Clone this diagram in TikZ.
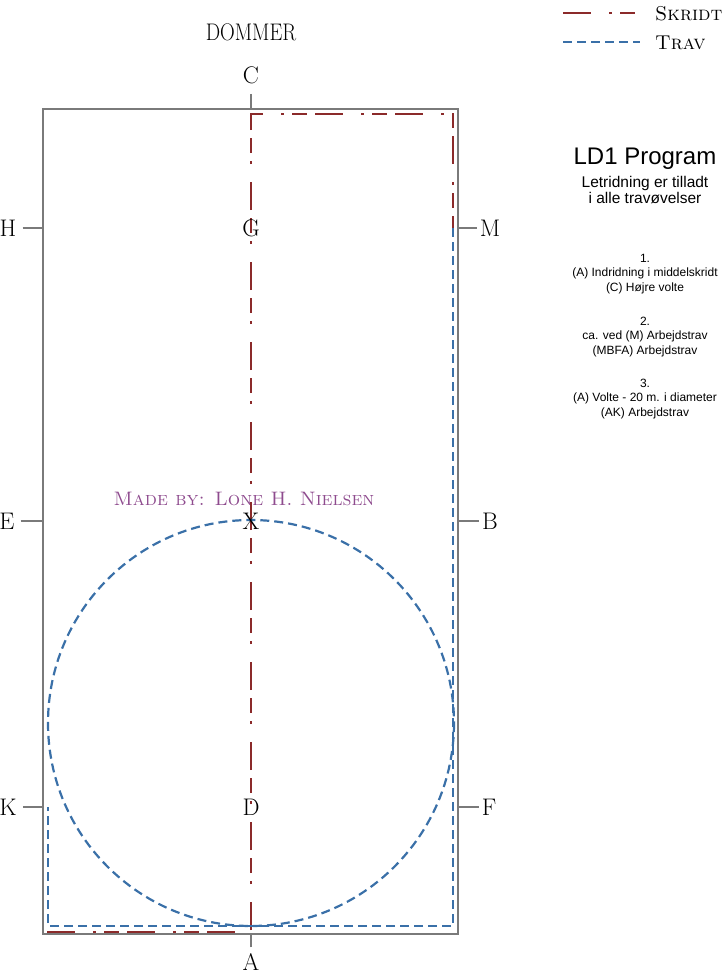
\documentclass[tikz,border=0pt]{standalone}
\usepackage{fontspec}
\newfontfamily\arialfont{Liberation Sans}
\definecolor{skridtred}{HTML}{8B2A2A}
\definecolor{travblue}{HTML}{3A70A8}
\definecolor{fencegray}{HTML}{7A7A7A}
\definecolor{madepurple}{HTML}{8E4B8E}

\begin{document}
\begin{tikzpicture}[x=1pt,y=-1pt]
\tikzstyle{every node}+=[inner sep=0pt]
\tikzstyle{fence}=[fencegray, line width=1.3pt]
\tikzstyle{fencetick}=[fence, shorten <=6pt]
\tikzstyle{skridt}=[skridtred, line width=2pt, dash pattern=on 28pt off 18pt on 3pt off 8pt on 15pt off 8pt]
\tikzstyle{trav}=[travblue, line width=2.2pt, dash pattern=on 9pt off 5pt]
\tikzstyle{letter}=[font=\fontsize{24}{24}\selectfont]
\tikzstyle{legendtext}=[font=\fontsize{20}{20}\selectfont\scshape, anchor=west]
\tikzstyle{info}=[font=\arialfont\fontsize{12}{14.5}\selectfont, align=center]
\useasboundingbox (0,0) rectangle (728,975);
% arena
\coordinate (tl) at (43,109);
\coordinate (br) at (458,934);
\draw [fence] (tl) rectangle (br);
\coordinate (c) at (251,109);
\coordinate (a) at (251,934);
\coordinate (h) at (43,228);
\coordinate (e) at (43,521);
\coordinate (k) at (43,807);
\coordinate (m) at (458,228);
\coordinate (b) at (458,521);
\coordinate (f) at (458,807);
% letters
\node [letter, xscale=0.85] (dommer) at (251,32) {DOMMER};
\node [letter] (C) at (251,75) {C};
\node [letter] (A) at (251,962) {A};
\node [letter] (H) at (8,228) {H};
\node [letter] (E) at (7,521) {E};
\node [letter] (K) at (8,807) {K};
\node [letter] (M) at (490,228) {M};
\node [letter] (B) at (490,521) {B};
\node [letter] (F) at (489,807) {F};
\draw [fencetick, shorten <=10pt] (C) -- (c);
\draw [fencetick] (A) -- (a);
\draw [fencetick] (H) -- (h);
\draw [fencetick] (E) -- (e);
\draw [fencetick] (K) -- (k);
\draw [fencetick, shorten <=3pt] (M) -- (m);
\draw [fencetick, shorten <=3pt] (B) -- (b);
\draw [fencetick, shorten <=3pt] (F) -- (f);
% track
\coordinate (s0) at (251,930);
\coordinate (s1) at (251,114);
\coordinate (s2) at (453,114);
\coordinate (s3) at (453,228);
\coordinate (t1) at (453,926);
\coordinate (t2) at (48,926);
\coordinate (t3) at (48,807);
\coordinate (v0) at (251,723);
\draw [skridt] (s0) -- (s1) -- (s2) -- (s3);
\draw [skridt] (47,932) -- (235,932);
\draw [trav] (s3) -- (t1) -- (t2) -- (t3);
\draw [trav] (v0) circle (203);
\node [letter] (G) at (251,228) {G};
\node [letter] (X) at (251,521) {X};
\node [letter] (D) at (251,807) {D};
\node [font=\fontsize{19.5}{19.5}\selectfont\scshape, text=madepurple] (made) at (244,499) {Made by: Lone H. Nielsen};
% legend
\coordinate (l1) at (563,13);
\coordinate (l2) at (563,42);
\draw [skridt] (l1) -- ++(75,0);
\draw [trav] (l2) -- ++(77,0);
\node [legendtext] (skridtlbl) at (655,14) {Skridt};
\node [legendtext] (travlbl) at (655,43) {Trav};
% program
\node [info, font=\arialfont\fontsize{24}{24}\selectfont] (title) at (645,159) {LD1 Program};
\node [info, font=\arialfont\fontsize{15.5}{16.5}\selectfont] (sub) at (645,190) {Letridning er tilladt\\i alle travøvelser};
\node [info] (step1) at (645,274) {1.\\(A) Indridning i middelskridt\\(C) Højre volte};
\node [info] (step2) at (645,337) {2.\\ca. ved (M) Arbejdstrav\\(MBFA) Arbejdstrav};
\node [info] (step3) at (645,399) {3.\\(A) Volte - 20 m. i diameter\\(AK) Arbejdstrav};
\end{tikzpicture}
\end{document}
